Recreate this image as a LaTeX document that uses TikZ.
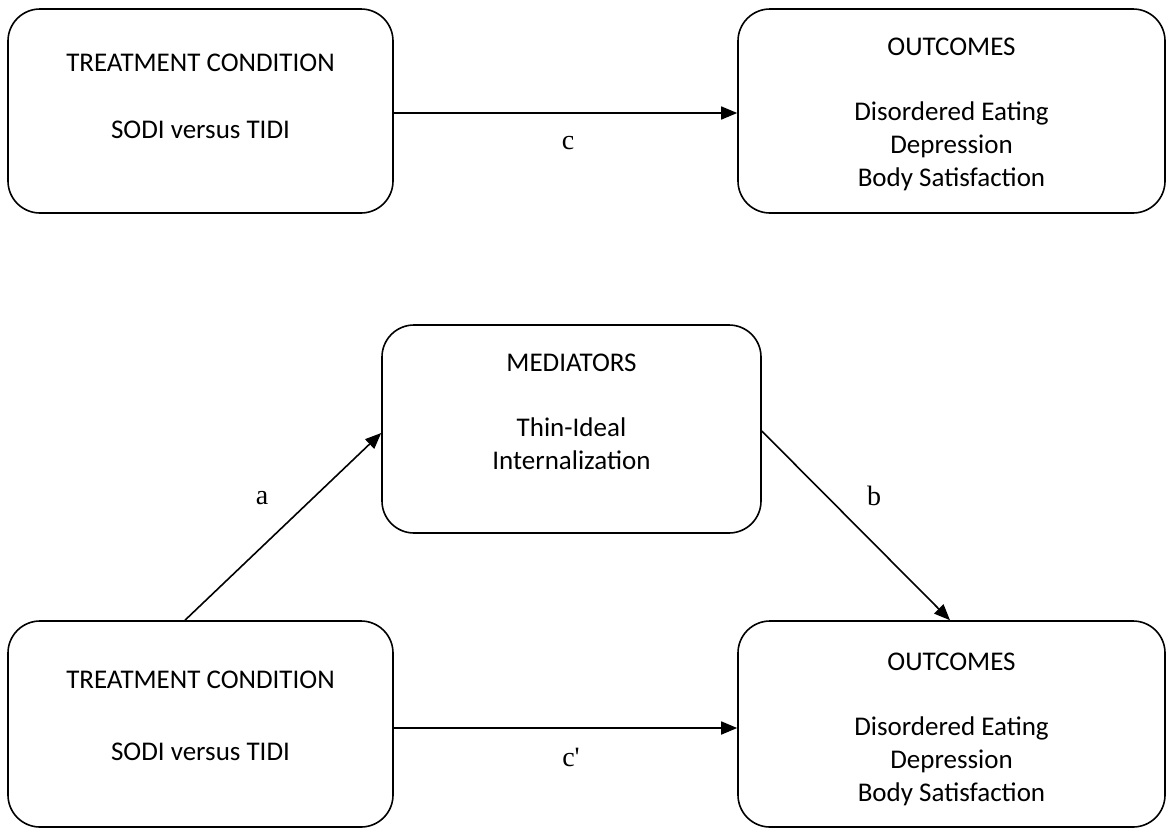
\documentclass[tikz,border=0pt]{standalone}
\usepackage{fontspec}
\setmainfont{Carlito}
\newfontfamily\tnr{Liberation Serif}
\usetikzlibrary{arrows.meta}
\begin{document}
\begin{tikzpicture}[x=1pt,y=1pt,
  boxnode/.style={draw=black, line width=1.6pt, rounded corners=32pt, inner sep=0pt},
  txt/.style={anchor=north, align=center, inner sep=0pt, font=\fontsize{27}{33}\selectfont},
  lbl/.style={font=\tnr\fontsize{28}{32}\selectfont, inner sep=0pt},
  conn/.style={line width=1.6pt, -{Triangle[length=16pt,width=13pt]}}]
\useasboundingbox (0,0) rectangle (1167,-828);
% boxes
\node[boxnode, minimum width=385pt, minimum height=204pt] (tl) at (200.5,-111) {};
\node[boxnode, minimum width=427pt, minimum height=204pt] (tr) at (951.5,-111) {};
\node[boxnode, minimum width=379pt, minimum height=208pt] (m) at (571.5,-429) {};
\node[boxnode, minimum width=385pt, minimum height=206pt] (bl) at (200.5,-724) {};
\node[boxnode, minimum width=427pt, minimum height=206pt] (br) at (951.5,-724) {};
% texts
\node[txt] (tlt) at (200.5,-54) {TREATMENT CONDITION\\[34pt]SODI versus TIDI};
\node[txt] (trt) at (951.5,-38) {OUTCOMES\\[32pt]Disordered Eating\\Depression\\Body Satisfaction};
\node[txt] (mt) at (571.5,-354) {MEDIATORS\\[32pt]Thin-Ideal\\Internalization};
\node[txt] (blt) at (200.5,-671) {TREATMENT CONDITION\\[39pt]SODI versus TIDI};
\node[txt] (brt) at (951.5,-653) {OUTCOMES\\[32pt]Disordered Eating\\Depression\\Body Satisfaction};
% connectors
\draw[conn] ([yshift=-2pt]tl.east) -- ([yshift=-2pt]tr.west);
\draw[conn] ([xshift=-15.5pt]bl.north) -- ([yshift=-4pt]m.west);
\draw[conn] ([yshift=-2pt]m.east) -- ([xshift=-1.5pt]br.north);
\draw[conn] ([yshift=-4pt]bl.east) -- ([yshift=-4pt]br.west);
% labels
\node[lbl] (lc) at (568,-143) {c};
\node[lbl] (la) at (262,-498) {a};
\node[lbl] (lb) at (874,-496) {b};
\node[lbl] (lcp) at (571,-757) {c\textquotesingle};
\end{tikzpicture}
\end{document}
